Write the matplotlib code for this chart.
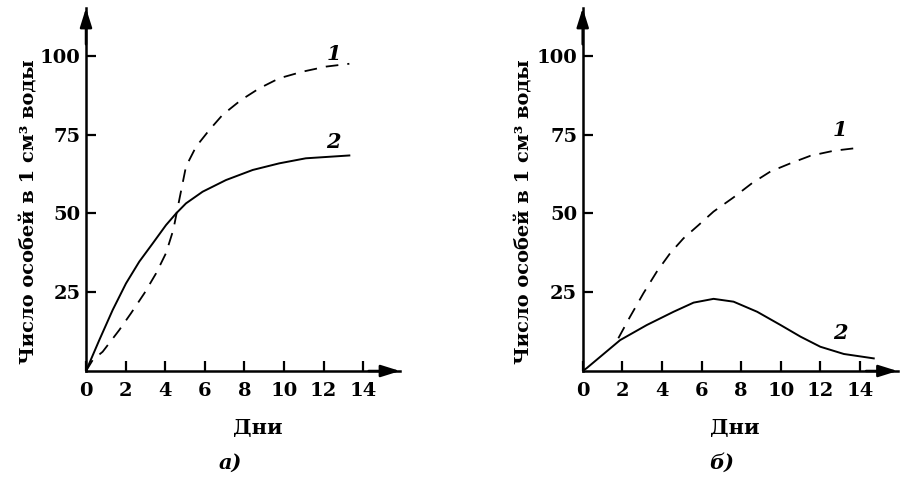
import matplotlib
matplotlib.use('Agg')
import matplotlib.pyplot as plt
import numpy as np

plt.rcParams['font.family'] = ['DejaVu Serif']
plt.rcParams['font.weight'] = 'bold'

# Panel a)
a_x1 = [0, 0.34, 0.84, 1.68, 2.27, 2.95, 3.54, 4.04, 4.41, 4.71, 5.05, 5.56, 6.23, 6.9, 7.83, 8.75, 9.76, 10.94, 12.12, 13.3]
a_y1 = [0, 3.5, 6.1, 13, 18.3, 24.7, 31, 37.4, 44.8, 54.3, 64.9, 71.2, 76.5, 81.3, 86, 89.7, 92.9, 95, 96.6, 97.5]
a_x2 = [0, 0.67, 1.35, 2.02, 2.69, 3.37, 4.04, 4.55, 5.05, 5.89, 7.07, 8.42, 9.76, 11.1, 13.3]
a_y2 = [0, 9.8, 19.4, 27.8, 34.7, 40.5, 46.3, 50.0, 53.2, 56.9, 60.6, 63.8, 65.9, 67.5, 68.4]

# Panel б)
b_x1 = [1.8, 2.39, 3.07, 3.74, 4.42, 5.09, 5.85, 6.61, 7.62, 8.55, 9.48, 10.49, 11.5, 12.68, 14.03]
b_y1 = [10.4, 17.2, 24.7, 31.5, 37.4, 42.1, 46.3, 50.6, 55.1, 59.6, 63.3, 65.9, 68.3, 69.9, 70.9]
b_x2 = [0, 0.2, 1.89, 3.24, 4.59, 5.6, 6.61, 7.62, 8.81, 9.99, 11.0, 12.0, 13.19, 14.7]
b_y2 = [0, 0.9, 9.8, 14.6, 18.8, 21.7, 22.9, 22.0, 18.8, 14.6, 10.9, 7.7, 5.4, 4.0]

xticks = [0, 2, 4, 6, 8, 10, 12, 14]
yticks = [25, 50, 75, 100]
ylab = 'Число особей в 1 см³ воды'

fig = plt.figure(figsize=(9.01, 4.82), dpi=100)
H = 482.0
W = 901.0


def panel(x0px, xmax, data, labels):
    ax = fig.add_axes([x0px / W, (H - 371) / H, (xmax * 19.8) / W, 363 / H])
    ax.set_xlim(0, xmax)
    ax.set_ylim(0, 115.2)
    for s in ['top', 'right']:
        ax.spines[s].set_visible(False)
    for s in ['left', 'bottom']:
        ax.spines[s].set_linewidth(1.8)
    arr = dict(arrowstyle='-|>,head_length=1.15,head_width=0.36', color='black',
               lw=1.8, shrinkA=0, shrinkB=0)
    ax.annotate('', xy=(1, 0), xycoords='axes fraction', xytext=(0.9, 0), arrowprops=arr)
    ax.annotate('', xy=(0, 1), xycoords='axes fraction', xytext=(0, 0.9), arrowprops=arr)
    ax.set_xticks(xticks)
    ax.set_yticks(yticks)
    ax.tick_params(direction='in', length=7, width=1.6, labelsize=14)
    ax.tick_params(axis='x', pad=8)
    ax.tick_params(axis='y', pad=4)
    (x1, y1), (x2, y2) = data
    ax.plot(x1, y1, color='black', lw=1.3, linestyle=(0, (7, 5)), dash_joinstyle='round')
    ax.plot(x2, y2, color='black', lw=1.4, solid_joinstyle='round')
    for (tx, ty, t) in labels:
        ax.text(tx, ty, t, fontsize=15, style='italic', weight='bold', ha='center', va='center')
    return ax


panel(86, 15.86, [(a_x1, a_y1), (a_x2, a_y2)], [(12.5, 100.6, '1'), (12.5, 72.7, '2')])
panel(582.7, 15.9, [(b_x1, b_y1), (b_x2, b_y2)], [(13.0, 76.5, '1'), (13.0, 12, '2')])

for xc, xd, xs, lab in [(30, 258, 230, 'а)'), (524, 735, 722, 'б)')]:
    fig.text(xc / W, 1 - 212 / H, ylab, rotation=90, ha='center', va='center', fontsize=14)
    fig.text(xd / W, 1 - 428 / H, 'Дни', ha='center', va='center', fontsize=15)
    fig.text(xs / W, 1 - 463 / H, lab, ha='center', va='center', fontsize=15, style='italic')

fig.savefig('out.png', dpi=100)
